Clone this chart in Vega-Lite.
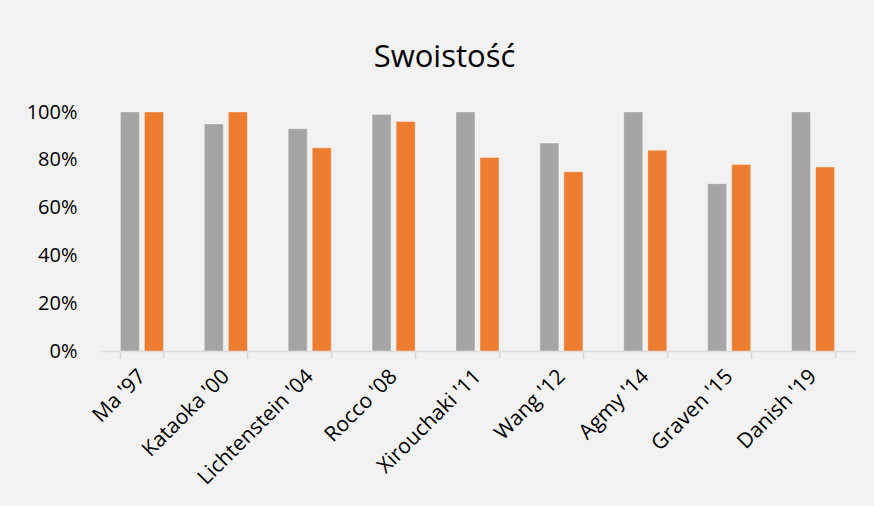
{
  "$schema": "https://vega.github.io/schema/vega-lite/v6.json",
  "width": 755,
  "height": 239,
  "autosize": {"type": "none"},
  "padding": {"left": 100, "top": 112, "right": 19, "bottom": 155},
  "background": "#f2f2f2",
  "title": {
    "text": "Swoistość",
    "font": "Open Sans",
    "fontSize": 31,
    "fontWeight": "normal",
    "color": "#000000",
    "anchor": "middle",
    "dx": -33,
    "offset": 28
  },
  "data": {
    "values": [
      {"study": "Ma '97", "series": "Seria 1", "value": 1.00},
      {"study": "Ma '97", "series": "Seria 2", "value": 1.00},
      {"study": "Kataoka '00", "series": "Seria 1", "value": 0.95},
      {"study": "Kataoka '00", "series": "Seria 2", "value": 1.00},
      {"study": "Lichtenstein '04", "series": "Seria 1", "value": 0.93},
      {"study": "Lichtenstein '04", "series": "Seria 2", "value": 0.85},
      {"study": "Rocco '08", "series": "Seria 1", "value": 0.99},
      {"study": "Rocco '08", "series": "Seria 2", "value": 0.96},
      {"study": "Xirouchaki '11", "series": "Seria 1", "value": 1.00},
      {"study": "Xirouchaki '11", "series": "Seria 2", "value": 0.81},
      {"study": "Wang '12", "series": "Seria 1", "value": 0.87},
      {"study": "Wang '12", "series": "Seria 2", "value": 0.75},
      {"study": "Agmy '14", "series": "Seria 1", "value": 1.00},
      {"study": "Agmy '14", "series": "Seria 2", "value": 0.84},
      {"study": "Graven '15", "series": "Seria 1", "value": 0.70},
      {"study": "Graven '15", "series": "Seria 2", "value": 0.78},
      {"study": "Danish '19", "series": "Seria 1", "value": 1.00},
      {"study": "Danish '19", "series": "Seria 2", "value": 0.77}
    ]
  },
  "mark": {"type": "bar", "stroke": "#ffffff", "strokeOpacity": 0.35, "strokeWidth": 1},
  "encoding": {
    "x": {
      "field": "study",
      "type": "nominal",
      "sort": null,
      "scale": {"paddingInner": 0.487, "paddingOuter": 0.2435},
      "axis": {
        "title": null,
        "labelAngle": -45,
        "labelAlign": "right",
        "labelBaseline": "middle",
        "labelFont": "Open Sans",
        "labelFontSize": 21,
        "labelColor": "#000000",
        "labelPadding": 15,
        "labelOverlap": false,
        "domainColor": "#d9d9d9",
        "domainWidth": 1.5,
        "tickColor": "#d9d9d9",
        "tickWidth": 1.5,
        "tickSize": 7,
        "tickBand": "extent"
      }
    },
    "xOffset": {
      "field": "series",
      "type": "nominal",
      "scale": {"paddingInner": 0.21, "paddingOuter": 0}
    },
    "y": {
      "field": "value",
      "type": "quantitative",
      "scale": {"domain": [0, 1]},
      "axis": {
        "title": null,
        "format": ".0%",
        "values": [0, 0.2, 0.4, 0.6, 0.8, 1.0],
        "labelFont": "Open Sans",
        "labelFontSize": 20,
        "labelColor": "#000000",
        "labelPadding": 23,
        "domain": false,
        "ticks": false,
        "grid": false
      }
    },
    "color": {
      "field": "series",
      "type": "nominal",
      "scale": {"domain": ["Seria 1", "Seria 2"], "range": ["#a5a5a5", "#ed7d31"]},
      "legend": null
    }
  },
  "config": {
    "view": {"stroke": null}
  }
}
